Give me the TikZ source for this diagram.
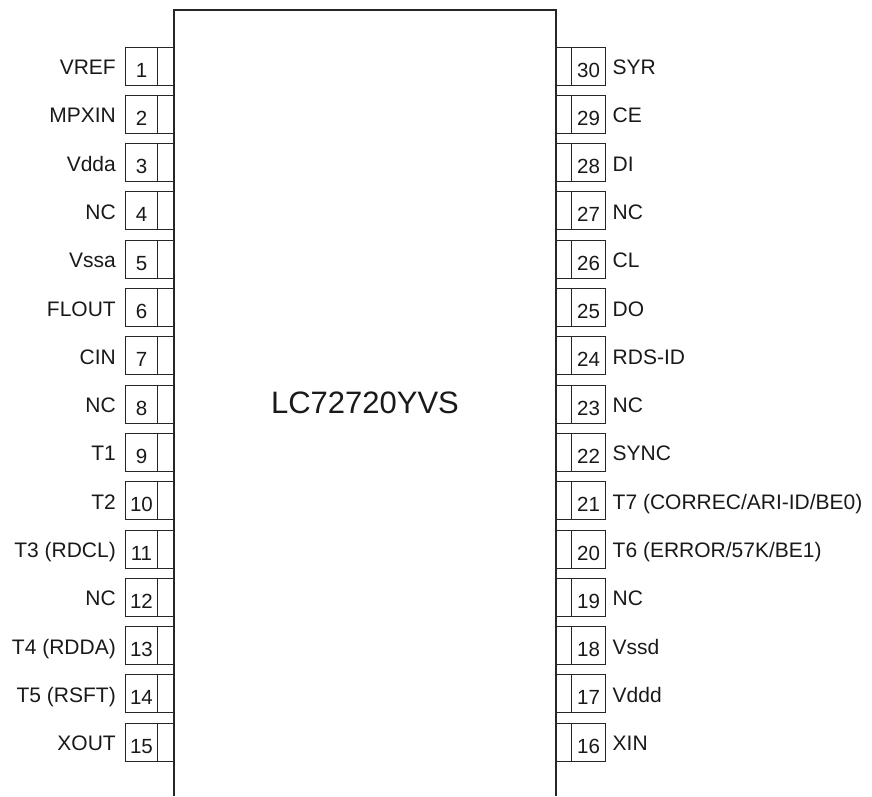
\documentclass[tikz,border=0pt]{standalone}
\usepackage{fontspec}
\setmainfont{Liberation Sans}
\begin{document}
\begin{tikzpicture}[x=1pt,y=-1pt,
  pinbox/.style={draw=black!85,line width=1pt,rectangle,minimum width=49pt,minimum height=38pt,inner sep=0pt},
  pinnum/.style={inner sep=0pt,anchor=base,font=\fontsize{20.5}{24}\selectfont,text=black!90},
  pinlabel/.style={inner sep=0pt,font=\fontsize{21}{25}\selectfont,text=black!90},
  chipline/.style={draw=black!85,line width=1.2pt}]
\useasboundingbox (0,0) rectangle (872,796);
% chip outline (open at bottom)
\draw[chipline] (174,796) -- (174,10) -- (556,10) -- (556,796);
\node[inner sep=0pt,anchor=base,font=\fontsize{31}{36}\selectfont,text=black!90] (title) at (365,413) {LC72720YVS};
% left pins
\foreach \i/\lab in {1/VREF,2/MPXIN,3/Vdda,4/NC,5/Vssa,6/FLOUT,7/CIN,8/NC,9/T1,10/T2,11/{T3 (RDCL)},12/NC,13/{T4 (RDDA)},14/{T5 (RSFT)},15/XOUT}{
  \pgfmathsetmacro{\cy}{66+(\i-1)*48.3}
  \node[pinbox] (p\i) at (149.5,\cy) {};
  \draw[black!85,line width=1pt] ([xshift=33pt]p\i.north west) -- ([xshift=33pt]p\i.south west);
  \node[pinnum] (n\i) at (141.5,\cy+11) {\i};
  \node[pinlabel,anchor=base east] (l\i) at (116,\cy+8.5) {\lab};
}
% right pins
\foreach \i/\lab in {30/SYR,29/CE,28/DI,27/NC,26/CL,25/DO,24/RDS-ID,23/NC,22/SYNC,21/{T7 (CORREC/ARI-ID/BE0)},20/{T6 (ERROR/57K/BE1)},19/NC,18/Vssd,17/Vddd,16/XIN}{
  \pgfmathsetmacro{\cy}{66+(30-\i)*48.3}
  \node[pinbox] (p\i) at (580.5,\cy) {};
  \draw[black!85,line width=1pt] ([xshift=16pt]p\i.north west) -- ([xshift=16pt]p\i.south west);
  \node[pinnum] (n\i) at (588.5,\cy+11) {\i};
  \node[pinlabel,anchor=base west] (l\i) at (612.5,\cy+8.5) {\lab};
}
\end{tikzpicture}
\end{document}
